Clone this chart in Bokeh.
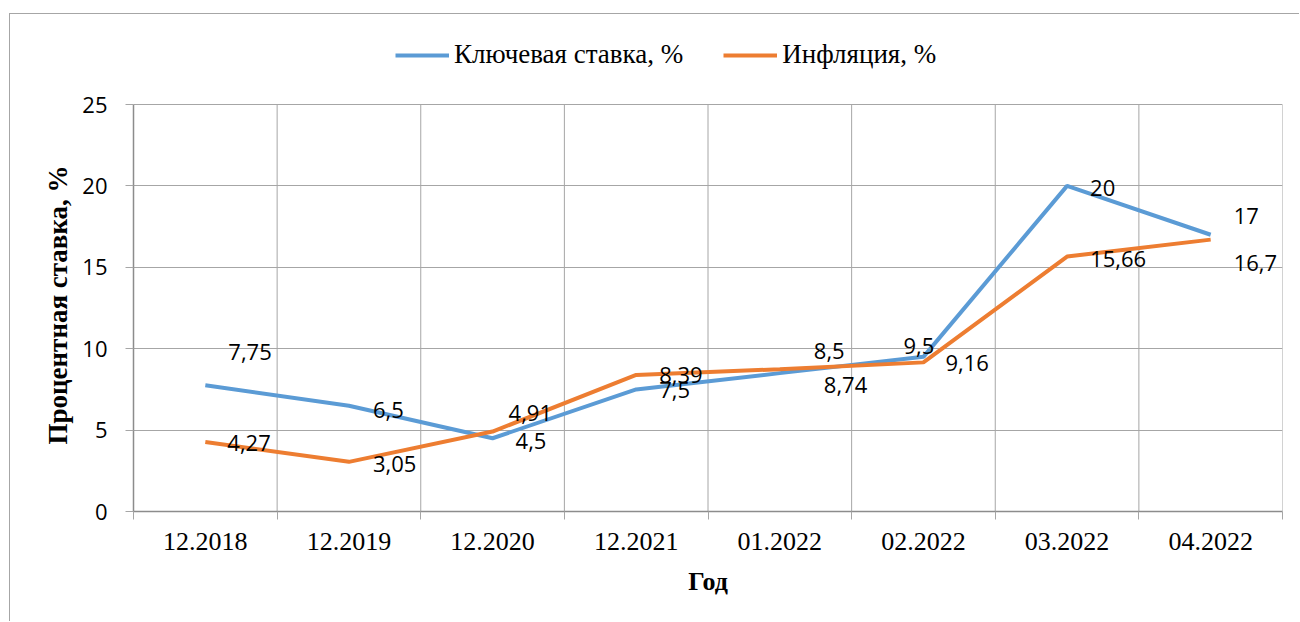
from bokeh.plotting import figure
from bokeh.models import ColumnDataSource, FixedTicker, Legend, LegendItem, Title
from bokeh.core.properties import value
from bokeh.embed import file_html
from bokeh.resources import INLINE

# ---- data ----
categories = ["12.2018", "12.2019", "12.2020", "12.2021",
              "01.2022", "02.2022", "03.2022", "04.2022"]
key_rate = [7.75, 6.5, 4.5, 7.5, 8.5, 9.5, 20, 17]
inflation = [4.27, 3.05, 4.91, 8.39, 8.74, 9.16, 15.66, 16.7]
y_ticks = [0, 5, 10, 15, 20, 25]

# ---- label placement (style, pixels) ----
key_dx = [23, 24, 23, 23, 34, -20, 23, 23]
key_dy = [-33, 4, 3, 1, -22, -11, 2, -19]
inf_dx = [22, 24, 16, 23, 44, 22, 23, 23]
inf_dy = [1.5, 2, -19, 0, 16, 1, 2, 23]

BLUE = "#5B9BD5"
ORANGE = "#ED7D31"
GRID = "#a6a6a6"
SERIF = "Liberation Serif"
SANS = "Open Sans"

# geometry: plot frame extends upward to hold the legend; grid/axis are bounded to 0..25
Y_MAX = y_ticks[-1]
FRAME_H = 487
GRID_H = 407
y_top = Y_MAX * FRAME_H / GRID_H

xs = [i + 0.5 for i in range(len(categories))]
bounds_x = list(range(len(categories) + 1))

def fmt(v):
    return f"{v:g}".replace(".", ",")

src_key = ColumnDataSource(dict(x=xs, y=key_rate, t=[fmt(v) for v in key_rate],
                                dx=key_dx, dy=key_dy))
src_inf = ColumnDataSource(dict(x=xs, y=inflation, t=[fmt(v) for v in inflation],
                                dx=inf_dx, dy=inf_dy))

p = figure(width=1290, height=608, output_backend="svg", toolbar_location=None,
           x_range=(0, len(categories)), y_range=(0, y_top),
           min_border_left=123, min_border_right=18,
           min_border_top=10, min_border_bottom=111)
p.margin = (13, 0, 0, 9)
p.styles = {"border-left": "1px solid #a6a6a6", "border-top": "1px solid #a6a6a6"}
p.outline_line_color = None
p.background_fill_color = "white"
p.border_fill_color = "white"

# vertical grid lines at the category boundaries, limited to the value range
p.segment(x0=bounds_x, y0=[0] * len(bounds_x), x1=bounds_x, y1=[Y_MAX] * len(bounds_x),
          line_color=GRID, line_width=1, level="underlay")

r1 = p.line("x", "y", source=src_key, line_color=BLUE, line_width=4)
r2 = p.line("x", "y", source=src_inf, line_color=ORANGE, line_width=4)

for src in (src_key, src_inf):
    p.text("x", "y", text="t", source=src, x_offset="dx", y_offset="dy",
           text_font=value(SANS), text_font_size="22px", text_color="black",
           text_align="left", text_baseline="middle")

# x axis: labels at centres, ticks at category boundaries
xa = p.xaxis[0]
xa.ticker = FixedTicker(ticks=xs, minor_ticks=bounds_x)
xa.major_label_overrides = {x: c for x, c in zip(xs, categories)}
xa.major_tick_out = 0
xa.major_tick_in = 0
xa.minor_tick_out = 8
xa.minor_tick_in = 0
xa.minor_tick_line_color = GRID
xa.axis_line_color = "#8c8c8c"
xa.axis_line_width = 1.5
xa.major_label_text_font = SERIF
xa.major_label_text_font_size = "26px"
xa.major_label_text_color = "black"
xa.major_label_standoff = 13
xa.axis_label = "Год"
xa.axis_label_text_font = SERIF
xa.axis_label_text_font_size = "26px"
xa.axis_label_text_font_style = "bold"
xa.axis_label_text_color = "black"
xa.axis_label_standoff = 14

ya = p.yaxis[0]
ya.bounds = (0, Y_MAX)
ya.ticker = FixedTicker(ticks=y_ticks)
ya.minor_tick_line_color = None
ya.major_tick_out = 8
ya.major_tick_in = 0
ya.major_tick_line_color = GRID
ya.axis_line_color = "#8c8c8c"
ya.axis_line_width = 1.5
ya.major_label_text_font = SANS
ya.major_label_text_font_size = "22px"
ya.major_label_text_color = "black"
ya.major_label_standoff = 18

# y axis title, centred on the 0..25 value range
p.add_layout(Title(text="Процентная ставка, %", align="left", offset=67, standoff=14,
                   text_font=SERIF, text_font_size="27px", text_font_style="bold",
                   text_color="black"), "left")

p.xgrid[0].grid_line_color = None
p.ygrid[0].grid_line_color = GRID

legend = Legend(items=[LegendItem(label="Ключевая ставка, %", renderers=[r1]),
                       LegendItem(label="Инфляция, %", renderers=[r2])],
                orientation="horizontal", location=(262, 441),
                label_text_font=SERIF, label_text_font_size="27px",
                label_text_color="black", glyph_width=54, label_standoff=5,
                spacing=40, padding=0, margin=0,
                border_line_color=None, background_fill_alpha=0)
p.add_layout(legend, "center")

open("out.html", "w").write(file_html(p, INLINE))
